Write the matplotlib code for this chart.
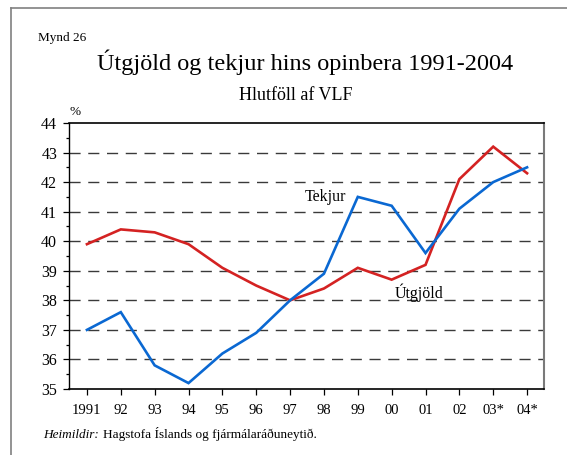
import matplotlib
matplotlib.use("Agg")
import matplotlib.pyplot as plt
from matplotlib.lines import Line2D
from matplotlib.ticker import MultipleLocator

plt.rcParams["font.family"] = ["Liberation Serif", "DejaVu Serif"]

# Data (% of GDP)
years = ["1991", "92", "93", "94", "95", "96", "97", "98", "99", "00", "01", "02", "03*", "04*"]
utgjold = [39.9, 40.4, 40.3, 39.9, 39.1, 38.5, 38.0, 38.4, 39.1, 38.7, 39.2, 42.1, 43.2, 42.3]
tekjur = [37.0, 37.6, 35.8, 35.2, 36.2, 36.9, 38.0, 38.9, 41.5, 41.2, 39.6, 41.1, 42.0, 42.5]

W, H = 567, 455
fig = plt.figure(figsize=(W / 100, H / 100), dpi=100)
ax = fig.add_axes([69 / W, 1 - 389 / H, (544 - 69) / W, (389 - 123) / H])

x = list(range(len(years)))
ax.plot(x, utgjold, color="#d42222", lw=1.9, solid_joinstyle="miter", zorder=3)
ax.plot(x, tekjur, color="#0a68d2", lw=1.9, solid_joinstyle="miter", zorder=3)

ax.set_xlim(-0.53, 13.5)
ax.set_ylim(35, 44)
ax.set_xticks(x)
ax.set_xticklabels(years)
ax.yaxis.set_major_locator(MultipleLocator(1))
ax.yaxis.set_minor_locator(MultipleLocator(0.5))

for v in range(36, 44):
    ax.axhline(v, color="#3a3a3a", lw=1.0, dashes=(8, 5.5), zorder=1)

ax.tick_params(axis="y", which="major", direction="out", length=4.5, width=0.9,
               labelsize=11.5, pad=4)
ax.tick_params(axis="y", which="minor", direction="out", length=2.2, width=0.9)
ax.tick_params(axis="x", direction="out", length=4, width=0.9, labelsize=10.5, pad=7)

ax.spines["left"].set_linewidth(1.0)
ax.spines["bottom"].set_linewidth(1.2)
ax.spines["top"].set_linewidth(1.2)
ax.spines["right"].set_color("#7a7a7a")
ax.spines["right"].set_linewidth(1.5)

ax.text(7.65, 41.5, "Tekjur", fontsize=11.5, ha="right", va="center")
ax.text(9.8, 38.25, "Útgjöld", fontsize=11.5, ha="center", va="center")

def fy(py):
    return 1 - py / H

fig.text(38 / W, fy(38), "Mynd 26", fontsize=9.5, va="center", ha="left")
fig.text(305 / W, fy(62), "Útgjöld og tekjur hins opinbera 1991-2004", fontsize=17.5,
         ha="center", va="center")
fig.text(296 / W, fy(96), "Hlutföll af VLF", fontsize=13, ha="center", va="center")
fig.text(75 / W, fy(112), "%", fontsize=9.5, ha="center", va="center")
src = fig.text(43 / W, fy(438), "Heimildir:", fontsize=9.5, style="italic",
               va="baseline", ha="left")
ax.annotate("Hagstofa Íslands og fjármálaráðuneytið.", xy=(1, 0), xycoords=src,
            xytext=(3, 0), textcoords="offset points", fontsize=9.5,
            va="bottom", ha="left", annotation_clip=False)

# outer frame (top and left edges)
fig.add_artist(Line2D([11 / W, 1], [fy(8), fy(8)], color="#808080", lw=1.2))
fig.add_artist(Line2D([11 / W, 11 / W], [fy(8), 0], color="#808080", lw=1.2))

fig.savefig("out.png", dpi=100)
